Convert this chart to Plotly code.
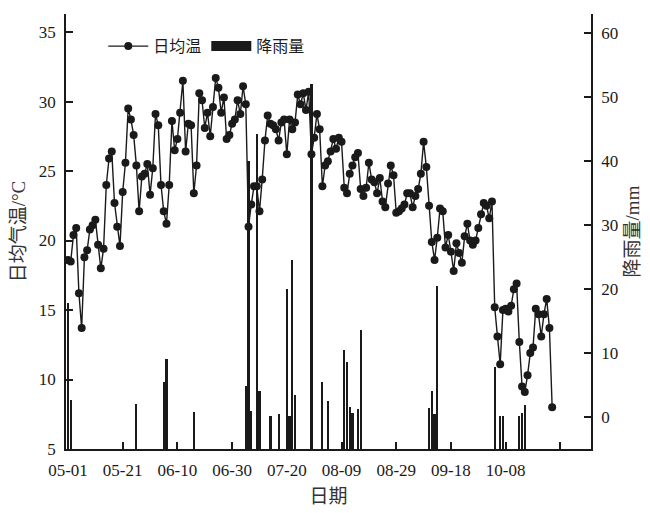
import plotly.graph_objects as go

# ---------------- data ----------------
# daily mean temperature, one value per day starting 05-01
temp_c = [
    18.6, 18.5, 20.4, 20.9, 16.2, 13.7, 18.8, 19.3, 20.8, 21.1,
    21.5, 19.7, 18.0, 19.4, 24.0, 25.9, 26.4, 22.7, 21.0, 19.6,
    23.5, 25.6, 29.5, 28.7, 27.6, 25.4, 22.1, 24.6, 24.8, 25.5,
    23.3, 25.2, 29.1, 28.3, 24.0, 22.1, 21.2, 24.0, 28.6, 26.5,
    27.3, 29.2, 31.5, 26.4, 28.4, 28.3, 23.4, 25.4, 30.6, 30.1,
    28.1, 29.2, 27.5, 29.6, 31.7, 31.0, 29.2, 30.3, 27.3, 27.6,
    28.4, 28.7, 30.1, 29.1, 31.1, 29.8, 21.0, 22.6, 23.9, 23.9,
    22.1, 24.4, 27.2, 29.0, 28.4, 28.3, 28.0, 27.2, 28.5, 28.7,
    26.2, 28.7, 28.0, 28.5, 30.5, 29.8, 30.6, 29.4, 30.7, 26.2,
    27.4, 29.1, 28.0, 23.9, 25.4, 25.7, 26.4, 27.3, 26.6, 27.4,
    27.1, 23.8, 23.4, 24.8, 25.4, 26.0, 26.3, 23.7, 23.2, 23.8,
    25.6, 24.4, 24.2, 23.4, 24.5, 22.8, 22.4, 24.1, 25.4, 24.7,
    22.0, 22.1, 22.3, 22.6, 23.4, 23.4, 22.4, 23.2, 23.7, 24.8,
    27.1, 25.3, 22.5, 19.9, 18.6, 20.2, 22.3, 22.1, 19.5, 20.4,
    19.2, 17.8, 19.8, 19.1, 18.4, 20.3, 21.2, 20.0, 19.7, 20.0,
    20.9, 21.9, 22.7, 22.5, 21.6, 22.8, 15.2, 13.1, 11.1, 15.0,
    15.1, 14.9, 15.3, 16.5, 16.9, 12.7, 9.5, 9.1, 10.3, 11.9,
    12.3, 15.1, 14.7, 13.1, 14.7, 15.8, 13.7, 8.0,
]
temp_days = list(range(len(temp_c)))

# rainfall events: day index (from 05-01) and amount (mm)
rain_days = [0, 1, 25, 35, 36, 46, 65, 66, 67, 69, 70, 74, 77, 80, 81, 82, 83,
             89, 93, 95, 101, 102, 103, 104, 106, 107, 132, 133, 134, 135,
             156, 158, 159, 165, 166, 167]
rain_mm = [17.8, 2.7, 2.0, 5.4, 9.0, 0.7, 4.9, 39.9, 0.9, 44.1, 4.1, 0.2, 0.4,
           20.0, 0.2, 24.5, 3.4, 52.0, 5.5, 2.5, 10.4, 8.6, 1.5, 0.6, 1.3, 13.6,
           1.4, 4.0, 0.4, 20.4, 7.8, 0.2, 0.1, 0.2, 0.6, 1.9]

tick_days = [0, 20, 40, 60, 80, 100, 120, 140, 160, 180]
tick_labels = ["05-01", "05-21", "06-10", "06-30", "07-20", "08-09",
               "08-29", "09-18", "10-08", ""]

temp_ticks = [5, 10, 15, 20, 25, 30, 35]
rain_ticks = [0, 10, 20, 30, 40, 50, 60]

temp_range = [5, 36.3]
rain_range = [-5, 62.9]
rain_base = rain_range[0]

# ---------------- figure ----------------
NUM_FONT = "Liberation Serif, Noto Sans CJK SC, serif"
CJK_FONT = "Noto Sans CJK SC, sans-serif"
INK = "#1a1a1a"
TITLE_INK = "#333333"

fig = go.Figure()

fig.add_trace(go.Scatter(
    x=temp_days, y=temp_c, name="日均温", mode="lines+markers",
    line=dict(color=INK, width=1.4),
    marker=dict(color=INK, size=8, symbol="circle"),
    yaxis="y",
))

fig.add_trace(go.Bar(
    x=rain_days, y=[v - rain_base for v in rain_mm], base=rain_base,
    name="降雨量", marker=dict(color=INK, line=dict(width=0)),
    width=0.8, yaxis="y2", showlegend=False, legendgroup="rain",
))

# legend entry for the rainfall bars, drawn as a wide filled block like the original
fig.add_trace(go.Scatter(
    x=[None], y=[None], name="降雨量", mode="lines",
    line=dict(color=INK, width=18), yaxis="y2", legendgroup="rain",
    hoverinfo="skip",
))

axis_common = dict(
    showgrid=False, zeroline=False, showline=True, linecolor=INK, linewidth=1.8,
    ticks="inside", ticklen=7, tickwidth=1.5, tickcolor=INK,
    tickfont=dict(family=NUM_FONT, size=17, color=INK),
    ticklabelstandoff=5,
)

# the page body adds an 8px offset, so the figure is 8px smaller than the window
fig.update_layout(
    width=642, height=505,
    margin=dict(l=58, r=59, t=6, b=64),
    paper_bgcolor="white", plot_bgcolor="white",
    showlegend=True,
    legend=dict(
        orientation="h", x=0.071, y=0.926, xanchor="left", yanchor="middle",
        font=dict(family=CJK_FONT, size=16, color=INK),
        bgcolor="rgba(0,0,0,0)", itemwidth=40, tracegroupgap=0,
    ),
    bargap=0,
    xaxis=dict(
        **axis_common,
        range=[-0.73, 191.2],
        tickmode="array", tickvals=tick_days, ticktext=tick_labels,
        title=dict(text="日期", font=dict(family=CJK_FONT, size=19, color=TITLE_INK),
                   standoff=10),
    ),
    yaxis=dict(
        **axis_common,
        range=temp_range, tickmode="array", tickvals=temp_ticks,
        title=dict(text="日均气温/°C", font=dict(family=NUM_FONT, size=19, color=TITLE_INK),
                   standoff=8),
    ),
    yaxis2=dict(
        **axis_common,
        overlaying="y", side="right",
        range=rain_range, tickmode="array", tickvals=rain_ticks,
        title=dict(text="降雨量/mm", font=dict(family=NUM_FONT, size=19, color=TITLE_INK),
                   standoff=8),
    ),
)

fig.write_html("out.html")
